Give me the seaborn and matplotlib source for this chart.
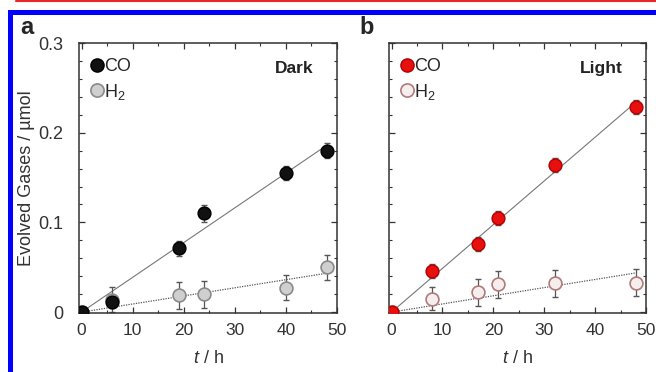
import numpy as np
import pandas as pd
import matplotlib
matplotlib.use("Agg")
import matplotlib.pyplot as plt
import seaborn as sns
from matplotlib.patches import Rectangle
from matplotlib.lines import Line2D
from matplotlib.ticker import MultipleLocator, FuncFormatter

# data (t in h, amounts in umol)
t_dark = [0, 6, 19, 24, 40, 48]
co_dark = [0.0, 0.011, 0.071, 0.110, 0.155, 0.180]
co_dark_err = [0.0, 0.006, 0.008, 0.009, 0.008, 0.008]
h2_dark = [0.0, 0.014, 0.019, 0.020, 0.027, 0.050]
h2_dark_err = [0.0, 0.014, 0.015, 0.015, 0.014, 0.014]

t_light = [0, 8, 17, 21, 32, 48]
co_light = [0.0, 0.046, 0.076, 0.105, 0.164, 0.229]
co_light_err = [0.0, 0.008, 0.008, 0.008, 0.008, 0.008]
h2_light = [0.0, 0.015, 0.022, 0.031, 0.032, 0.033]
h2_light_err = [0.0, 0.013, 0.015, 0.015, 0.015, 0.015]

sns.set_style("ticks")
plt.rcParams['font.family'] = ['Liberation Sans', 'DejaVu Sans']
plt.rcParams['mathtext.fontset'] = 'custom'
plt.rcParams['mathtext.it'] = 'Liberation Sans:italic'
plt.rcParams['mathtext.rm'] = 'Liberation Sans'

FS = 13
fig = plt.figure(figsize=(6.56, 3.72), dpi=100)
ax_a = fig.add_axes([0.1204, 0.1586, 0.3933, 0.7258])
ax_b = fig.add_axes([0.593, 0.1586, 0.392, 0.7258])

# page decoration: red rule on top, blue frame
fig.add_artist(Line2D([16 / 656, 1], [1 - 0.8 / 372] * 2, color='#e8262b', lw=1.5))
fig.add_artist(Rectangle((8 / 656, 0), 5 / 656, 1 - 10 / 372, color='#0000ff', lw=0))
fig.add_artist(Rectangle((8 / 656, 1 - 15 / 372), 1, 5 / 372, color='#0000ff', lw=0))


def origin_fit(t, y):
    t = np.asarray(t, float)
    y = np.asarray(y, float)
    return (t * y).sum() / (t * t).sum()


def panel(ax, t, co, co_err, h2, h2_err, co_col, co_edge, h2_col, h2_edge, tag):
    tt = np.array([0, t[-1]])
    ax.plot(tt, origin_fit(t, co) * tt, color='#777777', lw=0.8, zorder=1)
    ax.plot(tt, origin_fit(t, h2) * tt, color='#555555', lw=0.9, ls=(0, (1, 1)), zorder=1)

    ax.errorbar(t, co, yerr=co_err, fmt='none', ecolor='#555555', elinewidth=0.9, capsize=2, zorder=2)
    ax.errorbar(t, h2, yerr=h2_err, fmt='none', ecolor='#555555', elinewidth=0.9, capsize=2, zorder=2)

    df = pd.DataFrame({'t': list(t) * 2, 'v': list(co) + list(h2),
                       'gas': ['CO'] * len(t) + ['H2'] * len(t)})
    sns.scatterplot(data=df[df.gas == 'H2'], x='t', y='v', ax=ax, s=85, color=h2_col,
                    edgecolor=h2_edge, linewidth=1.2, zorder=3, legend=False)
    sns.scatterplot(data=df[df.gas == 'CO'], x='t', y='v', ax=ax, s=85, color=co_col,
                    edgecolor=co_edge, linewidth=1.0, zorder=4, legend=False)

    handles = [Line2D([], [], ls='none', marker='o', ms=9.5, mfc=co_col, mec=co_edge, mew=1.0),
               Line2D([], [], ls='none', marker='o', ms=9.5, mfc=h2_col, mec=h2_edge, mew=1.2)]
    ax.legend(handles, ['CO', 'H$_2$'], loc='upper left', frameon=False, fontsize=13,
              handlelength=0.6, handletextpad=0.1, labelspacing=0.35,
              borderaxespad=0.3, bbox_to_anchor=(0.0, 0.99))
    ax.text(45.5, 0.272, tag, ha='right', va='center', fontsize=12.5, fontweight='bold', color='#222222')

    ax.set_xlim(-0.5, 50)
    ax.set_ylim(-0.001, 0.3)
    ax.xaxis.set_major_locator(MultipleLocator(10))
    ax.xaxis.set_minor_locator(MultipleLocator(5))
    ax.yaxis.set_major_locator(MultipleLocator(0.1))
    ax.yaxis.set_minor_locator(MultipleLocator(0.02))
    ax.yaxis.set_major_formatter(FuncFormatter(lambda v, p: '0' if abs(v) < 1e-9 else f'{v:.1f}'))
    ax.tick_params(which='both', direction='in', top=True, right=True, color='#333333',
                   labelsize=FS, labelcolor='#333333')
    ax.tick_params(axis='x', pad=7, labelsize=12.5)
    ax.tick_params(axis='y', pad=11)
    ax.tick_params(which='major', length=4, width=0.9)
    ax.tick_params(which='minor', length=2.5, width=0.8)
    for sp in ax.spines.values():
        sp.set_color('#333333')
        sp.set_linewidth(1.1)
    ax.set_xlabel('$t$ / h', fontsize=FS, color='#333333', labelpad=9)
    ax.set_ylabel('')


panel(ax_a, t_dark, co_dark, co_dark_err, h2_dark, h2_dark_err,
      '#111111', '#000000', '#cfcfcf', '#8a8a8a', 'Dark')
panel(ax_b, t_light, co_light, co_light_err, h2_light, h2_light_err,
      '#e8100f', '#b00000', '#f6eeee', '#b07a7a', 'Light')

ax_a.set_ylabel('Evolved Gases / µmol', fontsize=FS, color='#333333', labelpad=3)
ax_b.tick_params(axis='y', labelleft=False)

fig.text(20 / 656, 1 - 27 / 372, 'a', fontsize=17, fontweight='bold', ha='left', va='center')
fig.text(359 / 656, 1 - 27 / 372, 'b', fontsize=17, fontweight='bold', ha='left', va='center')

fig.savefig('out.png', dpi=100)
